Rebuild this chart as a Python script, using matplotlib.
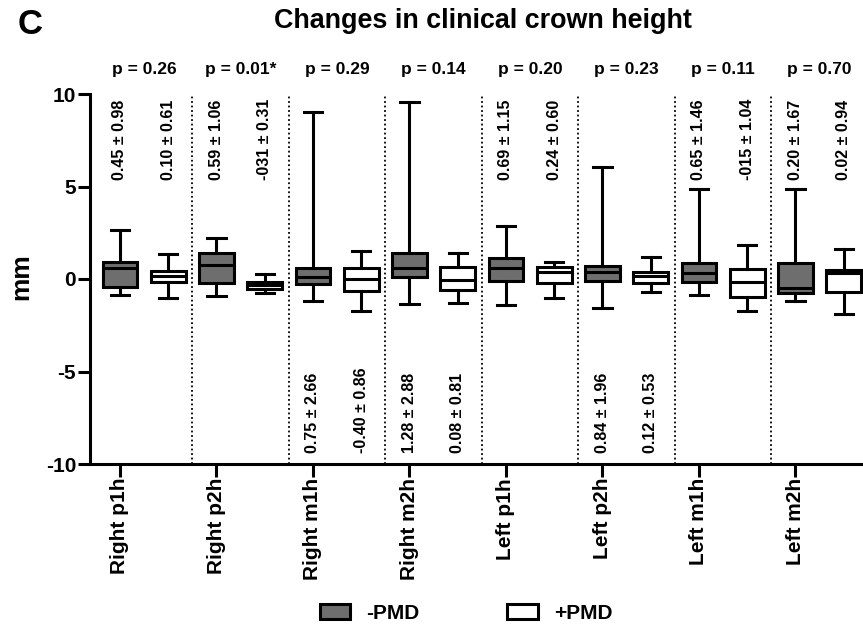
import numpy as np
import matplotlib
matplotlib.use('Agg')
from matplotlib import pyplot as plt
from matplotlib.patches import Patch

plt.rcParams['font.family'] = ['Liberation Sans', 'DejaVu Sans']
plt.rcParams['font.weight'] = 'bold'
plt.rcParams['axes.unicode_minus'] = False

teeth = ['Right p1h', 'Right p2h', 'Right m1h', 'Right m2h',
         'Left p1h', 'Left p2h', 'Left m1h', 'Left m2h']
p_values = ['p = 0.26', 'p = 0.01*', 'p = 0.29', 'p = 0.14',
            'p = 0.20', 'p = 0.23', 'p = 0.11', 'p = 0.70']

# box stats (mm): whisker low, q1, median, q3, whisker high
minus_lo = [-0.87, -0.92, -1.20, -1.36, -1.41, -1.56, -0.87, -1.20]
minus_q1 = [-0.42, -0.20, -0.27, 0.09, -0.11, -0.11, -0.15, -0.74]
minus_med = [0.62, 0.76, 0.13, 0.58, 0.58, 0.40, 0.31, -0.51]
minus_q3 = [0.94, 1.39, 0.58, 1.43, 1.16, 0.72, 0.85, 0.85]
minus_hi = [2.66, 2.21, 9.04, 9.58, 2.84, 6.05, 4.87, 4.87]

plus_lo = [-1.03, -0.78, -1.72, -1.32, -1.00, -0.69, -1.72, -1.90]
plus_q1 = [-0.15, -0.56, -0.63, -0.60, -0.24, -0.20, -0.96, -0.69]
plus_med = [0.16, -0.33, -0.02, -0.05, 0.40, 0.16, -0.15, 0.31]
plus_q3 = [0.45, -0.15, 0.62, 0.63, 0.67, 0.40, 0.53, 0.49]
plus_hi = [1.36, 0.27, 1.54, 1.39, 0.94, 1.18, 1.85, 1.61]

# mean +- sd labels (typos kept as in the figure)
minus_labels = ['0.45 ± 0.98', '0.59 ± 1.06', '0.75 ± 2.66', '1.28 ± 2.88',
                '0.69 ± 1.15', '0.84 ± 1.96', '0.65 ± 1.46', '0.20 ± 1.67']
plus_labels = ['0.10 ± 0.61', '-031 ± 0.31', '-0.40 ± 0.86', '0.08 ± 0.81',
               '0.24 ± 0.60', '0.12 ± 0.53', '-015 ± 1.04', '0.02 ± 0.94']
label_on_top = [True, True, False, False, True, False, True, True]

gray = '#6e6e6e'
lw = 2.2


def make_stats(lo, q1, med, q3, hi):
    return [dict(whislo=lo[i], q1=q1[i], med=med[i], q3=q3[i], whishi=hi[i], fliers=[])
            for i in range(len(lo))]


fig = plt.figure(figsize=(8.63, 6.25), dpi=100)
ax = fig.add_axes([0.1043, 0.2576, 0.8957, 0.592])

n = len(teeth)
pos_minus = np.arange(n) * 2
pos_plus = pos_minus + 1

for stats, pos, fc in [(make_stats(minus_lo, minus_q1, minus_med, minus_q3, minus_hi), pos_minus, gray),
                       (make_stats(plus_lo, plus_q1, plus_med, plus_q3, plus_hi), pos_plus, 'white')]:
    ax.bxp(stats, positions=pos, widths=0.72, capwidths=0.38, patch_artist=True, showfliers=False,
           boxprops=dict(facecolor=fc, edgecolor='black', linewidth=lw),
           medianprops=dict(color='black', linewidth=lw),
           whiskerprops=dict(color='black', linewidth=lw),
           capprops=dict(color='black', linewidth=lw))

# dotted separators between teeth
for i in range(n - 1):
    ax.plot([2 * i + 1.5] * 2, [-10, 10], color='black', linestyle=(0, (1, 1.5)), linewidth=1.3)

# mean +- sd annotations and p values
for i in range(n):
    y = 5.35 if label_on_top[i] else -9.4
    for x, txt in [(pos_minus[i], minus_labels[i]), (pos_plus[i], plus_labels[i])]:
        ax.text(x, y, txt, rotation=90, ha='center', va='bottom', fontsize=11.5, fontweight='bold')
    ax.text(pos_minus[i] + 0.5, 11.3, p_values[i], ha='center', va='center',
            fontsize=12.5, fontweight='bold', clip_on=False)

ax.set_xlim(-0.62, 15.4)
ax.set_ylim(-10, 10)
ax.set_yticks([-10, -5, 0, 5, 10])
ax.set_xticks(pos_minus)
ax.set_xticklabels(teeth, rotation=90, fontsize=15, fontweight='bold')
ax.tick_params(axis='y', labelsize=15, width=lw, length=9, pad=1)
ax.tick_params(axis='x', width=lw, length=9, pad=1)
for lab in ax.get_yticklabels():
    lab.set_fontweight('bold')
for s in ['top', 'right']:
    ax.spines[s].set_visible(False)
for s in ['left', 'bottom']:
    ax.spines[s].set_linewidth(lw)

fig.text(21 / 863, 1 - 277 / 625, 'mm', rotation=90, ha='center', va='center',
         fontsize=19, fontweight='bold')
fig.text(483 / 863, 0.966, 'Changes in clinical crown height', ha='center', va='center',
         fontsize=19.4, fontweight='bold')
fig.text(0.02, 0.96, 'C', ha='left', va='center', fontsize=25, fontweight='bold')

handles = [Patch(facecolor=gray, edgecolor='black', linewidth=lw, label='-PMD'),
           Patch(facecolor='white', edgecolor='black', linewidth=lw, label='+PMD')]
fig.legend(handles=handles, loc='center', bbox_to_anchor=(0.54, 0.019), ncol=2, frameon=False,
           prop=dict(size=15, weight='bold'), handlelength=1.47, handleheight=0.8,
           columnspacing=4.2, handletextpad=0.77)

fig.savefig('out.png', dpi=100)
